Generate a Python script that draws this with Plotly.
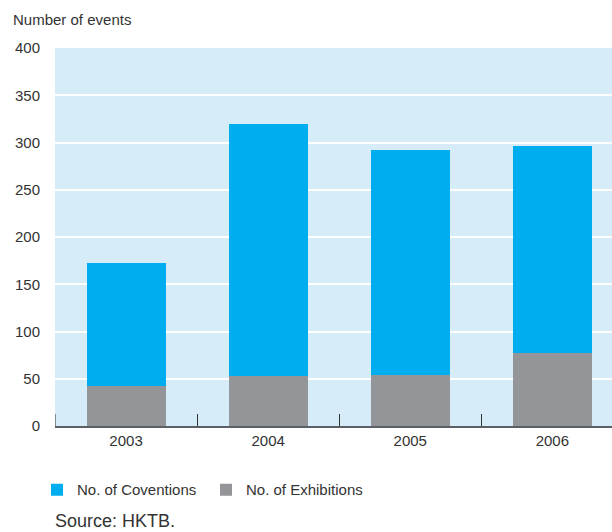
import plotly.graph_objects as go

years = ["2003", "2004", "2005", "2006"]
exhibitions = [42, 53, 54, 77]
conventions = [130, 267, 238, 219]
y_ticks = [0, 50, 100, 150, 200, 250, 300, 350, 400]

font_family = "Liberation Sans, Arial, sans-serif"
text_color = "#333333"

fig = go.Figure()
fig.add_trace(go.Bar(x=years, y=exhibitions, name="No. of Exhibitions",
                     marker=dict(color="#939598", line=dict(width=0))))
fig.add_trace(go.Bar(x=years, y=conventions, name="No. of Coventions",
                     marker=dict(color="#00AEEF", line=dict(width=0))))

fig.update_layout(
    width=612, height=532,
    barmode="stack", bargap=0.444,
    paper_bgcolor="white", plot_bgcolor="#D6ECF9",
    margin=dict(l=55, r=0, t=48, b=106),
    font=dict(family=font_family, size=15, color=text_color),
    xaxis=dict(type="category", range=[-0.5, 3.42], tickson="boundaries",
               ticks="inside", ticklen=12, tickwidth=1, tickcolor="#333333",
               showline=True, linecolor="#5a6066", linewidth=2,
               showgrid=False, tickfont=dict(size=15, color=text_color)),
    yaxis=dict(range=[0, 400], tickvals=y_ticks, showgrid=True,
               gridcolor="white", gridwidth=2, zeroline=False,
               showline=False, ticks="", ticklabelstandoff=14,
               tickfont=dict(size=15, color=text_color)),
    legend=dict(orientation="h", x=(37 - 55) / 557, xanchor="left", y=-0.169,
                yanchor="middle", traceorder="reversed",
                font=dict(size=15, color=text_color), entrywidth=124),
    showlegend=True,
    shapes=[dict(type="line", xref="x", yref="y", x0=-0.5, x1=-0.5,
                 y0=0, y1=12.7, line=dict(color="#333333", width=1))],
    annotations=[
        dict(text="Number of events", xref="paper", yref="paper",
             x=(11 - 55) / 557, y=(426 - 20) / 378, xanchor="left", yanchor="middle",
             showarrow=False, font=dict(size=15, color=text_color)),
        dict(text="Source: HKTB.", xref="paper", yref="paper",
             x=-2 / 557, y=(426 - 521) / 378, xanchor="left", yanchor="middle",
             showarrow=False, font=dict(size=18, color=text_color)),
    ],
)

fig.write_html("out.html", config={"displayModeBar": False},
               post_script="document.body.style.margin='0';")
